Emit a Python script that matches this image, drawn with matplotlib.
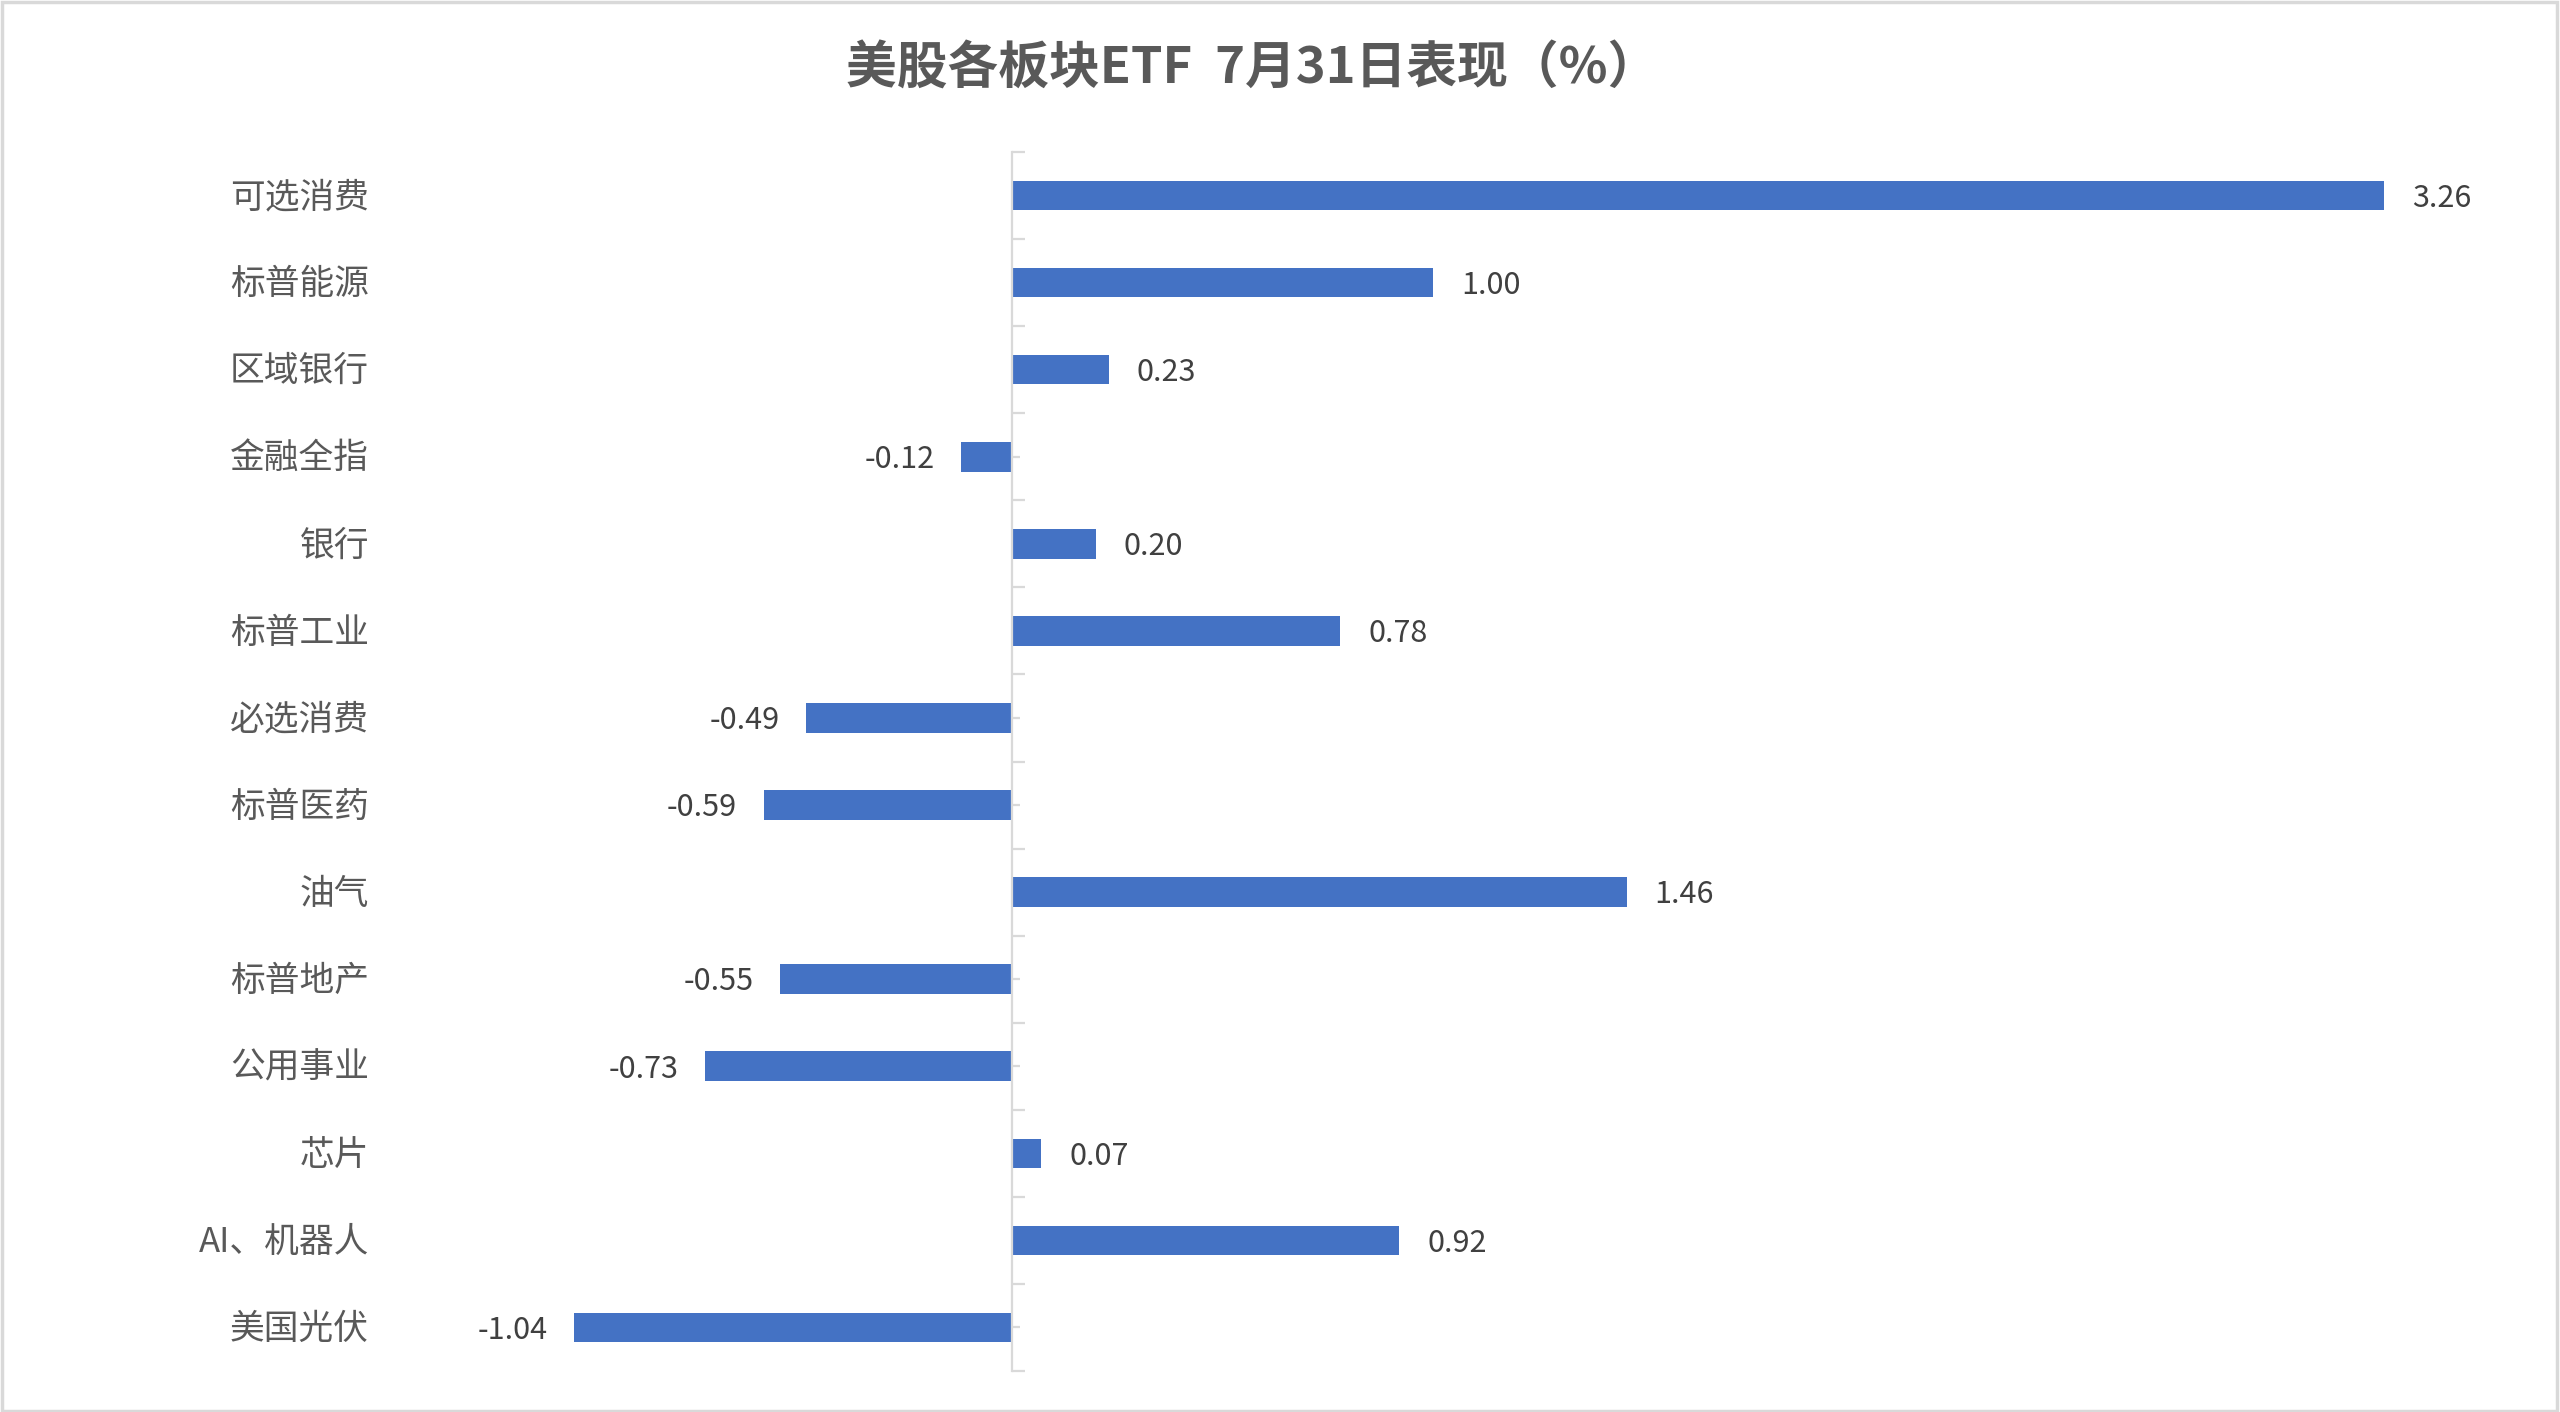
import matplotlib
matplotlib.use("Agg")
import matplotlib.pyplot as plt
from matplotlib.patches import Rectangle
import matplotlib.transforms as mtransforms

plt.rcParams['font.family'] = ['Noto Sans CJK SC', 'DejaVu Sans']

categories = ["可选消费", "标普能源", "区域银行", "金融全指", "银行", "标普工业", "必选消费",
              "标普医药", "油气", "标普地产", "公用事业", "芯片", "AI、机器人", "美国光伏"]
values = [3.26, 1.00, 0.23, -0.12, 0.20, 0.78, -0.49, -0.59, 1.46, -0.55, -0.73, 0.07, 0.92, -1.04]
title = "美股各板块ETF  7月31日表现（%）"

W, H = 2560, 1412
fig = plt.figure(figsize=(W / 100, H / 100), dpi=100)
fig.patch.set_facecolor("white")

# axes placement in pixels
ax_left_px, ax_right_px = 400, 2540
ax_top_px, ax_bot_px = 152, 1371
zero_px = 1012
px_per_unit = 421.0
ax = fig.add_axes([ax_left_px / W, 1 - ax_bot_px / H,
                   (ax_right_px - ax_left_px) / W, (ax_bot_px - ax_top_px) / H])
ax.set_xlim(-(zero_px - ax_left_px) / px_per_unit, (ax_right_px - zero_px) / px_per_unit)
n = len(categories)
ax.set_ylim(n - 0.5, -0.5)

ypos = list(range(n))
ax.barh(ypos, values, height=0.34, color="#4472C4", edgecolor="none", zorder=2)

for sp in ["top", "right", "bottom"]:
    ax.spines[sp].set_visible(False)
ax.spines["left"].set_position(("data", 0))
ax.spines["left"].set_color("#D9D9D9")
ax.spines["left"].set_linewidth(1.6)
ax.spines["left"].set_zorder(3)

ax.set_xticks([])
ax.set_yticks([i - 0.5 for i in range(n + 1)])
ax.set_yticks(ypos, minor=True)
ax.tick_params(axis="y", which="major", direction="in", length=9, width=1.6,
               color="#D9D9D9", labelleft=False)
ax.tick_params(axis="y", which="minor", direction="in", length=6, width=1.6,
               color="#D9D9D9", labelleft=False)

# category labels
trans = mtransforms.blended_transform_factory(fig.transFigure, ax.transData)
for i, c in enumerate(categories):
    ax.annotate(c, xy=(369 / W, i), xycoords=trans, xytext=(0, -1.5),
                textcoords="offset points", ha="right", va="center",
                fontsize=25, color="#595959")

# data labels
for i, v in enumerate(values):
    if v >= 0:
        ax.annotate(f"{v:.2f}", xy=(v, i), xytext=(20, -2), textcoords="offset points",
                    ha="left", va="center", fontsize=22, color="#404040")
    else:
        ax.annotate(f"{v:.2f}", xy=(v, i), xytext=(-19, -2), textcoords="offset points",
                    ha="right", va="center", fontsize=22, color="#404040")

fig.text(1252 / W, 1 - 69 / H, title, ha="center", va="center", fontsize=36.5,
         fontweight="bold", color="#595959")

# figure border
fig.patches.append(Rectangle((0.0006, 0.001), 0.9982, 0.9975, transform=fig.transFigure,
                             fill=False, edgecolor="#D9D9D9", linewidth=2.5))

fig.savefig("out.png", dpi=100, facecolor="white")
